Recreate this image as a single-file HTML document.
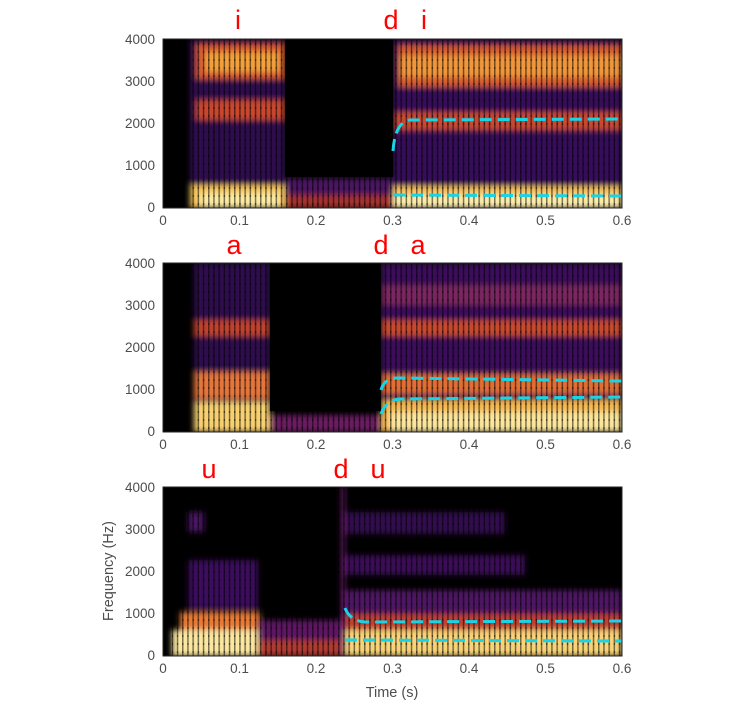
<!DOCTYPE html>
<html><head><meta charset="utf-8"><style>
html,body{margin:0;padding:0;background:#fff;}
svg{display:block;font-family:"Liberation Sans",Arial,sans-serif;}
.t{font-size:13.5px;fill:#4d4d4d;}
.r{font-size:27px;fill:#ff0000;}
</style></head><body>
<svg width="756" height="720" viewBox="0 0 756 720">
<defs>
<filter id="b" x="-5%" y="-5%" width="110%" height="110%"><feGaussianBlur stdDeviation="3"/></filter>
<pattern id="st" width="5.2" height="8" patternUnits="userSpaceOnUse">
<rect x="0" y="0" width="1.5" height="8" fill="#000" opacity="0.5"/>
<rect x="0" y="3" width="1.5" height="2" fill="#000" opacity="0.4"/>
</pattern>
<clipPath id="c1"><rect x="163" y="39" width="459" height="169"/></clipPath>
<clipPath id="c2"><rect x="163" y="263" width="459" height="169"/></clipPath>
<clipPath id="c3"><rect x="163" y="487" width="459" height="169"/></clipPath>
</defs>

<!-- Panel 1 -->
<g clip-path="url(#c1)">
<rect x="163" y="39" width="459" height="169" fill="#000"/>
<g filter="url(#b)">
<rect x="190" y="39" width="95" height="169" fill="#2e0a4e"/>
<rect x="196" y="44" width="89" height="35" fill="#d8582e"/>
<rect x="205" y="52" width="75" height="20" fill="#f3a03a"/>
<rect x="196" y="100" width="89" height="20" fill="#c8462f"/>
<rect x="190" y="185" width="95" height="23" fill="#f5c45a"/>
<rect x="200" y="193" width="80" height="15" fill="#fbeaa0"/>
<rect x="285" y="178" width="108" height="30" fill="#4a1460"/>
<rect x="285" y="195" width="108" height="13" fill="#a5332f"/>
<rect x="393" y="39" width="229" height="169" fill="#360c58"/>
<rect x="398" y="45" width="224" height="42" fill="#d55a2e"/>
<rect x="400" y="55" width="222" height="22" fill="#f0963a"/>
<rect x="395" y="112" width="227" height="18" fill="#c94a30"/>
<rect x="393" y="186" width="229" height="22" fill="#f5c05a"/>
<rect x="393" y="195" width="229" height="13" fill="#fcecab"/>
</g>
<rect x="190" y="39" width="432" height="169" fill="url(#st)"/>
<rect x="285" y="39" width="108" height="138" fill="#000"/>
<path d="M393,151 Q395,122 410,120 L622,119" fill="none" stroke="#19d4e6" stroke-width="3" stroke-dasharray="12,6"/>
<path d="M393,195 L622,196" fill="none" stroke="#19d4e6" stroke-width="3" stroke-dasharray="12,6"/>
</g>

<!-- Panel 2 -->
<g clip-path="url(#c2)">
<rect x="163" y="263" width="459" height="169" fill="#000"/>
<g filter="url(#b)">
<rect x="194" y="263" width="76" height="169" fill="#2e0a4e"/>
<rect x="194" y="320" width="76" height="16" fill="#c0432f"/>
<rect x="194" y="372" width="76" height="27" fill="#e4763a"/>
<rect x="194" y="402" width="76" height="30" fill="#f7d070"/>
<rect x="270" y="415" width="111" height="17" fill="#6a1b60"/>
<rect x="381" y="263" width="241" height="169" fill="#3a0e5a"/>
<rect x="381" y="285" width="241" height="20" fill="#7a2660"/>
<rect x="381" y="320" width="241" height="16" fill="#c8482f"/>
<rect x="381" y="374" width="241" height="20" fill="#e06e35"/>
<rect x="381" y="400" width="241" height="32" fill="#f4b84e"/>
<rect x="390" y="412" width="232" height="20" fill="#fbe69c"/>
</g>
<rect x="194" y="263" width="428" height="169" fill="url(#st)"/>
<rect x="270" y="263" width="111" height="148" fill="#000"/>
<path d="M381,414 Q386,400 400,399 L622,397" fill="none" stroke="#19d4e6" stroke-width="3" stroke-dasharray="12,6"/>
<path d="M381,390 Q384,378 398,378 L622,381" fill="none" stroke="#19d4e6" stroke-width="3" stroke-dasharray="12,6"/>
</g>

<!-- Panel 3 -->
<g clip-path="url(#c3)">
<rect x="163" y="487" width="459" height="169" fill="#000"/>
<g filter="url(#b)">
<rect x="188" y="560" width="70" height="50" fill="#3a0d5c"/>
<rect x="188" y="512" width="16" height="20" fill="#4a1460"/>
<rect x="180" y="612" width="80" height="20" fill="#e87a36"/>
<rect x="172" y="630" width="90" height="26" fill="#fbe7a0"/>
<rect x="258" y="620" width="86" height="36" fill="#5c1862"/>
<rect x="258" y="640" width="86" height="16" fill="#b03a30"/>
<rect x="341" y="487" width="4" height="169" fill="#6a1e6a"/>
<rect x="345" y="512" width="160" height="22" fill="#33104e"/>
<rect x="345" y="555" width="180" height="20" fill="#3a0f57"/>
<rect x="345" y="590" width="277" height="30" fill="#4d1462"/>
<rect x="345" y="614" width="277" height="18" fill="#c04130"/>
<rect x="345" y="630" width="277" height="26" fill="#f8d478"/>
</g>
<rect x="172" y="487" width="450" height="169" fill="url(#st)"/>
<path d="M345,608 Q350,621 365,622 L622,621" fill="none" stroke="#19d4e6" stroke-width="3" stroke-dasharray="12,6"/>
<path d="M345,640 L622,641" fill="none" stroke="#19d4e6" stroke-width="3" stroke-dasharray="12,6"/>
</g>

<!-- axes frames -->
<g fill="none" stroke="#262626" stroke-width="1">
<rect x="163" y="39" width="459" height="169"/>
<rect x="163" y="263" width="459" height="169"/>
<rect x="163" y="487" width="459" height="169"/>
</g>

<!-- tick labels -->
<g class="t" text-anchor="end">
<text x="155" y="44">4000</text><text x="155" y="86">3000</text><text x="155" y="128">2000</text><text x="155" y="170">1000</text><text x="155" y="212">0</text>
<text x="155" y="268">4000</text><text x="155" y="310">3000</text><text x="155" y="352">2000</text><text x="155" y="394">1000</text><text x="155" y="436">0</text>
<text x="155" y="492">4000</text><text x="155" y="534">3000</text><text x="155" y="576">2000</text><text x="155" y="618">1000</text><text x="155" y="660">0</text>
</g>
<g class="t" text-anchor="middle">
<text x="163" y="225">0</text><text x="239.5" y="225">0.1</text><text x="316" y="225">0.2</text><text x="392.5" y="225">0.3</text><text x="469" y="225">0.4</text><text x="545.5" y="225">0.5</text><text x="622" y="225">0.6</text>
<text x="163" y="449">0</text><text x="239.5" y="449">0.1</text><text x="316" y="449">0.2</text><text x="392.5" y="449">0.3</text><text x="469" y="449">0.4</text><text x="545.5" y="449">0.5</text><text x="622" y="449">0.6</text>
<text x="163" y="673">0</text><text x="239.5" y="673">0.1</text><text x="316" y="673">0.2</text><text x="392.5" y="673">0.3</text><text x="469" y="673">0.4</text><text x="545.5" y="673">0.5</text><text x="622" y="673">0.6</text>
</g>
<text class="t" x="392" y="697" text-anchor="middle" style="font-size:14.5px">Time (s)</text>
<text class="t" x="0" y="0" text-anchor="middle" style="font-size:14.5px" transform="translate(113,571) rotate(-90)">Frequency (Hz)</text>

<!-- phoneme labels -->
<g class="r" text-anchor="middle">
<text x="238" y="29">i</text><text x="391" y="29">d</text><text x="424" y="29">i</text>
<text x="234" y="254">a</text><text x="381" y="254">d</text><text x="418" y="254">a</text>
<text x="209" y="478">u</text><text x="341" y="478">d</text><text x="378" y="478">u</text>
</g>
</svg>
</body></html>
